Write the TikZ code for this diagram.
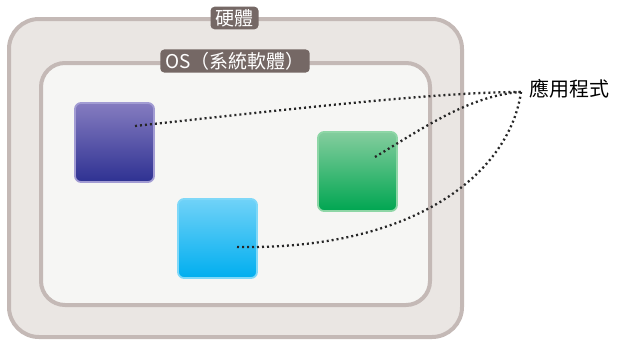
\documentclass[tikz,border=0pt]{standalone}
\usepackage{fontspec}
\newfontfamily\cjk{Noto Sans CJK TC}
\definecolor{outerfill}{HTML}{EAE6E3}
\definecolor{outerline}{HTML}{C4B9B6}
\definecolor{innerfill}{HTML}{F6F6F4}
\definecolor{tagfill}{HTML}{756865}
\definecolor{pTop}{HTML}{857CC0}
\definecolor{pBot}{HTML}{2E3192}
\definecolor{pLine}{HTML}{A29CD3}
\definecolor{gTop}{HTML}{84CD9E}
\definecolor{gBot}{HTML}{00A651}
\definecolor{gLine}{HTML}{8ED6A6}
\definecolor{bTop}{HTML}{70D2F8}
\definecolor{bBot}{HTML}{00AEEF}
\definecolor{bLine}{HTML}{7FD8F8}
\begin{document}
\begin{tikzpicture}[x=1pt,y=-1pt,
  tag/.style={fill=tagfill,text=white,rounded corners=4pt,inner xsep=5pt,inner ysep=2.5pt,font=\cjk\fontsize{19}{19}\selectfont},
  app/.style={minimum width=79pt,minimum height=79pt,rounded corners=6pt,line width=1.8pt},
  link/.style={dash pattern=on 2pt off 3pt,line width=2.3pt,color=black!85}]
\useasboundingbox (0,0) rectangle (617,340);
\fill[white] (0,0) rectangle (617,340);
\draw[line width=4pt,outerline,fill=outerfill,rounded corners=30pt] (9,19) rectangle (462,337);
\draw[line width=4pt,outerline,fill=innerfill,rounded corners=24pt] (41,63) rectangle (430,305);
\node[tag] (hw) at (234.5,18) {硬體};
\node[tag] (os) at (235,61) {OS（系統軟體）};
\node[app,draw=pLine,top color=pTop,bottom color=pBot] (p) at (114.5,142.5) {};
\node[app,draw=gLine,top color=gTop,bottom color=gBot] (g) at (357.5,171.5) {};
\node[app,draw=bLine,top color=bTop,bottom color=bBot] (b) at (217.5,238.5) {};
\node[font=\cjk\fontsize{20}{20}\selectfont,anchor=west,inner sep=0pt] (lab) at (529,89) {應用程式};
\coordinate (e) at (521,92);
\coordinate (pc) at (135,126);
\coordinate (gc) at (375,157);
\coordinate (bc) at (237,247);
\draw[link] (pc) .. controls (300,108) and (440,92) .. (e);
\draw[link] (gc) .. controls (420,130) and (470,95) .. (e);
\draw[link] (bc) .. controls (420,250) and (510,170) .. (e);
\end{tikzpicture}
\end{document}
